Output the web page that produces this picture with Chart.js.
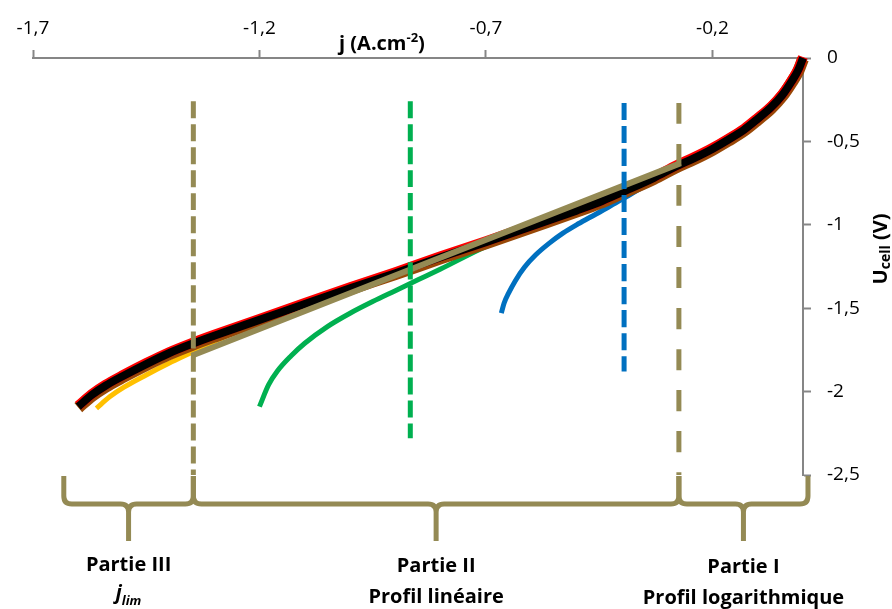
<!DOCTYPE html>
<html>
<head>
<meta charset="utf-8">
<script src="https://cdn.jsdelivr.net/npm/chart.js@4/dist/chart.umd.min.js"></script>
<style>
  html, body { margin: 0; padding: 0; background: #fff; }
  #wrap { width: 892px; height: 609px; position: relative; }
</style>
</head>
<body>
<div id="wrap"><canvas id="chart"></canvas></div>
<script>
// axis ticks
const xTicks = [-1.7, -1.2, -0.7, -0.2];
const yTicks = [0, -0.5, -1, -1.5, -2, -2.5];

// main polarisation curve (black, red and brown overlap)
const blackJ = [0, -0.01, -0.025, -0.045, -0.07, -0.1, -0.13, -0.165, -0.2, -0.24, -0.28, -0.33, -0.4, -0.45, -0.5, -0.6, -0.7, -0.8, -0.9, -1.0, -1.1, -1.2, -1.3, -1.35, -1.4, -1.45, -1.5, -1.54, -1.57, -1.6];
const blackU = [0, -0.07, -0.14, -0.22, -0.295, -0.365, -0.43, -0.49, -0.545, -0.6, -0.65, -0.72, -0.805, -0.865, -0.915, -1.01, -1.105, -1.195, -1.29, -1.38, -1.475, -1.57, -1.665, -1.715, -1.77, -1.835, -1.905, -1.965, -2.02, -2.09];

// orange curve
const orangeJ = [0, -0.01, -0.025, -0.045, -0.07, -0.1, -0.13, -0.165, -0.2, -0.24, -0.28, -0.33, -0.4, -0.45, -0.5, -0.6, -0.7, -0.8, -0.9, -1.0, -1.1, -1.2, -1.3, -1.35, -1.4, -1.45, -1.5, -1.53, -1.56];
const orangeU = [0, -0.07, -0.14, -0.22, -0.295, -0.365, -0.43, -0.49, -0.545, -0.6, -0.65, -0.72, -0.805, -0.865, -0.915, -1.01, -1.105, -1.195, -1.29, -1.38, -1.48, -1.59, -1.7, -1.765, -1.83, -1.9, -1.975, -2.03, -2.1];

// green curve
const greenJ = [0, -0.01, -0.025, -0.045, -0.07, -0.1, -0.13, -0.165, -0.2, -0.24, -0.28, -0.33, -0.4, -0.45, -0.5, -0.6, -0.7, -0.8, -0.85, -0.9, -0.95, -1.0, -1.05, -1.1, -1.13, -1.16, -1.18, -1.2];
const greenU = [0, -0.07, -0.14, -0.22, -0.295, -0.365, -0.43, -0.49, -0.545, -0.6, -0.65, -0.72, -0.805, -0.865, -0.915, -1.02, -1.13, -1.265, -1.33, -1.395, -1.46, -1.53, -1.61, -1.71, -1.785, -1.875, -1.96, -2.09];

// blue curve
const blueJ = [0, -0.01, -0.025, -0.045, -0.07, -0.1, -0.13, -0.165, -0.2, -0.24, -0.27, -0.3, -0.33, -0.36, -0.395, -0.43, -0.47, -0.5, -0.53, -0.56, -0.59, -0.615, -0.635, -0.65, -0.66, -0.666];
const blueU = [0, -0.07, -0.14, -0.22, -0.295, -0.365, -0.43, -0.49, -0.545, -0.6, -0.65, -0.695, -0.74, -0.785, -0.84, -0.895, -0.955, -1.0, -1.05, -1.11, -1.18, -1.255, -1.335, -1.41, -1.47, -1.53];

// linear fit (tan)
const fitJ = [-1.35, -0.27];
const fitU = [-1.785, -0.63];

// vertical dashed limits
const limitJ = [-1.346, -0.867, -0.395, -0.274];
const limitTop = [-0.26, -0.26, -0.27, -0.27];
const limitBottom = [-2.5, -2.28, -1.88, -2.5];

// zones under the plot
const zoneEdges = [-1.632, -1.346, -0.274, 0.011];
const zoneTitles = ['Partie III', 'Partie II', 'Partie I'];
const zoneNotes = ['j', 'Profil linéaire', 'Profil logarithmique'];

const tan = '#948A54';
const axisGray = '#868686';
const fontFamily = '"Open Sans", Lato, sans-serif';

const pts = (xs, ys) => xs.map((v, i) => ({ x: v, y: ys[i] }));
const fmt = v => String(Math.round(v * 10) / 10).replace('.', ',');

const limitColors = [tan, '#00B050', '#0070C0', tan];
const limitDash = [[17, 6], [17, 6], [17, 6], [21, 20]];

const datasets = [];
limitJ.forEach((j, i) => {
    datasets.push({
        data: [{ x: j, y: limitTop[i] }, { x: j, y: limitBottom[i] }],
        borderColor: limitColors[i],
        borderWidth: 5,
        borderDash: limitDash[i]
    });
});
datasets.push({ data: pts(fitJ, fitU), borderColor: tan, borderWidth: 6 });
datasets.push({ data: pts(blackJ, blackU), borderColor: '#000000', borderWidth: 8 });
datasets.push({ data: pts(blackJ, blackU), borderColor: '#FF0000', borderWidth: 10, shiftY: -1 });
datasets.push({ data: pts(blackJ, blackU), borderColor: '#984807', borderWidth: 12, shiftY: 1 });
datasets.push({ data: pts(blueJ, blueU), borderColor: '#0070C0', borderWidth: 5 });
datasets.push({ data: pts(greenJ, greenU), borderColor: '#00B050', borderWidth: 5 });
datasets.push({ data: pts(orangeJ, orangeU), borderColor: '#FFC000', borderWidth: 5 });
datasets.forEach(d => {
    d.pointRadius = 0;
    d.fill = false;
    d.clip = false;
    d.cubicInterpolationMode = 'monotone';
});

// small vertical offset so the red/brown edges show on each side
const shiftPlugin = {
    id: 'shift',
    beforeDatasetDraw(chart, args) {
        const dy = chart.data.datasets[args.index].shiftY || 0;
        chart.ctx.save();
        chart.ctx.translate(0, dy);
    },
    afterDatasetDraw(chart) {
        chart.ctx.restore();
    }
};

function drawBrace(ctx, x1, x2, yTop, yMid, yTip, r) {
    const xm = (x1 + x2) / 2;
    ctx.beginPath();
    ctx.moveTo(x1, yTop);
    ctx.lineTo(x1, yMid - r);
    ctx.quadraticCurveTo(x1, yMid, x1 + r, yMid);
    ctx.lineTo(xm - r, yMid);
    ctx.quadraticCurveTo(xm, yMid, xm, yMid + r);
    ctx.lineTo(xm, yTip);
    ctx.moveTo(xm, yMid + r);
    ctx.quadraticCurveTo(xm, yMid, xm + r, yMid);
    ctx.lineTo(x2 - r, yMid);
    ctx.quadraticCurveTo(x2, yMid, x2, yMid - r);
    ctx.lineTo(x2, yTop);
    ctx.stroke();
}

const annotations = {
    id: 'annotations',
    afterDraw(chart) {
        const { ctx, chartArea } = chart;
        const xs = chart.scales.x;
        const base = chartArea.bottom;
        ctx.save();

        // braces and zone labels
        ctx.strokeStyle = tan;
        ctx.lineWidth = 5;
        ctx.lineJoin = 'round';
        ctx.fillStyle = '#000';
        ctx.textBaseline = 'middle';
        for (let i = 0; i < zoneTitles.length; i++) {
            const x1 = xs.getPixelForValue(zoneEdges[i]);
            const x2 = xs.getPixelForValue(zoneEdges[i + 1]);
            const xm = (x1 + x2) / 2;
            drawBrace(ctx, x1, x2, base + 1, base + 29, base + 66, 8);

            ctx.textAlign = 'center';
            ctx.font = 'bold 20px ' + fontFamily;
            ctx.fillText(zoneTitles[i], xm, base + 90 + i);
            if (i === 0) {
                // j with "lim" subscript
                ctx.font = 'italic bold 20px ' + fontFamily;
                const wj = ctx.measureText('j').width;
                ctx.font = 'italic bold 13px ' + fontFamily;
                const ws = ctx.measureText('lim').width;
                const x0 = xm - (wj + ws) / 2;
                ctx.textAlign = 'left';
                ctx.font = 'italic bold 20px ' + fontFamily;
                ctx.fillText('j', x0, base + 118);
                ctx.font = 'italic bold 13px ' + fontFamily;
                ctx.fillText('lim', x0 + wj, base + 126);
            } else {
                ctx.fillText(zoneNotes[i], xm, base + 121 + i);
            }
        }

        // x axis title
        ctx.textAlign = 'left';
        ctx.textBaseline = 'alphabetic';
        let tx = 339;
        ctx.font = 'bold 20px ' + fontFamily;
        ctx.fillText('j (A.cm', tx, 50);
        tx += ctx.measureText('j (A.cm').width;
        ctx.font = 'bold 13px ' + fontFamily;
        ctx.fillText('-2', tx, 42);
        tx += ctx.measureText('-2').width;
        ctx.font = 'bold 20px ' + fontFamily;
        ctx.fillText(')', tx, 50);

        // y axis title (rotated)
        ctx.translate(887, 249);
        ctx.rotate(-Math.PI / 2);
        ctx.font = 'bold 20px ' + fontFamily;
        const wU = ctx.measureText('U').width;
        const wV = ctx.measureText(' (V)').width;
        ctx.font = 'bold 14px ' + fontFamily;
        const wc = ctx.measureText('cell').width;
        let ty = -(wU + wc + wV) / 2;
        ctx.font = 'bold 20px ' + fontFamily;
        ctx.fillText('U', ty, 0);
        ty += wU;
        ctx.font = 'bold 14px ' + fontFamily;
        ctx.fillText('cell', ty, 3);
        ty += wc;
        ctx.font = 'bold 20px ' + fontFamily;
        ctx.fillText(' (V)', ty, 0);

        ctx.restore();
    }
};

new Chart(document.getElementById('chart'), {
    type: 'line',
    data: { datasets: datasets },
    options: {
        responsive: true,
        maintainAspectRatio: false,
        animation: false,
        layout: { padding: { left: 33, right: 0, top: 0, bottom: 134 } },
        plugins: {
            legend: { display: false },
            tooltip: { enabled: false }
        },
        scales: {
            x: {
                type: 'linear',
                position: 'top',
                min: -1.7,
                max: 0,
                afterBuildTicks: s => { s.ticks = xTicks.map(v => ({ value: v })); },
                afterFit: s => { s.height = 58; },
                grid: { drawOnChartArea: false, drawTicks: true, tickLength: 8, tickColor: axisGray, tickWidth: 2 },
                border: { color: axisGray, width: 2 },
                ticks: {
                    color: '#000',
                    padding: 10,
                    maxRotation: 0,
                    font: { family: fontFamily, size: 19 },
                    callback: v => fmt(v)
                }
            },
            y: {
                type: 'linear',
                position: 'right',
                min: -2.5,
                max: 0,
                afterBuildTicks: s => { s.ticks = yTicks.map(v => ({ value: v })); },
                afterFit: s => { s.width = 89; },
                grid: { drawOnChartArea: false, drawTicks: true, tickLength: 8, tickColor: axisGray, tickWidth: 2 },
                border: { color: axisGray, width: 2 },
                ticks: {
                    color: '#000',
                    padding: 16,
                    font: { family: fontFamily, size: 19 },
                    callback: v => fmt(v)
                }
            }
        }
    },
    plugins: [shiftPlugin, annotations]
});
</script>
</body>
</html>
